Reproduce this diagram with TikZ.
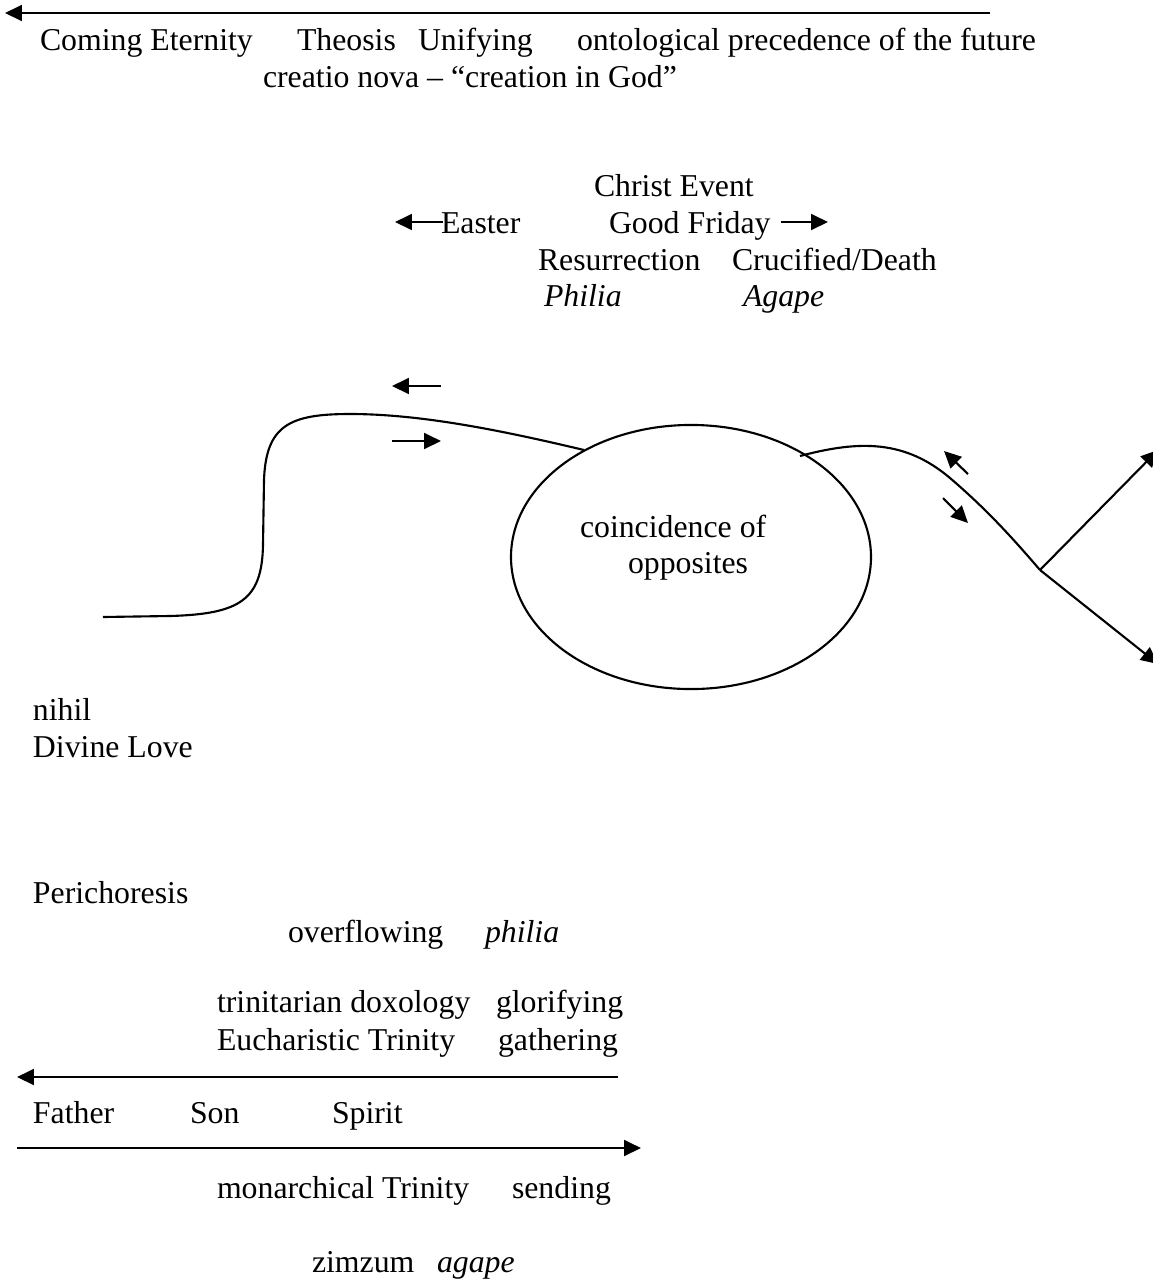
\documentclass[tikz,border=0pt]{standalone}
\usepackage{fontspec}
\setmainfont{Liberation Serif}
\usetikzlibrary{arrows.meta,shapes.geometric}
\begin{document}
\begin{tikzpicture}[x=0.3775pt,y=-0.3775pt,
  txt/.style={anchor=base west,inner sep=0pt,outer sep=0pt,font=\fontsize{12pt}{14pt}\selectfont},
  itxt/.style={txt,font=\fontsize{12pt}{14pt}\selectfont\itshape},
  ln/.style={line width=0.8pt},
  arr/.style={ln,-{Triangle[length=6.4pt,width=6pt]}}]
\useasboundingbox (0,0) rectangle (1153,1280);
% top
\coordinate (topR) at (990,13);
\coordinate (topL) at (5,13);
\draw[arr] (topR) -- (topL);
\node[txt] (t1) at (40,50) {Coming Eternity};
\node[txt] (t2) at (297,50) {Theosis};
\node[txt] (t3) at (418,50) {Unifying};
\node[txt] (t4) at (577,50) {ontological precedence of the future};
\node[txt] (t5) at (263,87) {creatio nova – “creation in God”};
% Christ event
\node[txt] (ce) at (594,196) {Christ Event};
\node[txt] (easter) at (441,233) {Easter};
\node[txt] (gf) at (609,233) {Good Friday};
\coordinate (eA) at (443,222);
\coordinate (eB) at (395,222);
\draw[arr] (eA) -- (eB);
\coordinate (gA) at (781,222);
\coordinate (gB) at (828,222);
\draw[arr] (gA) -- (gB);
\node[txt] (res) at (538,270) {Resurrection};
\node[txt] (cru) at (732,270) {Crucified/Death};
\node[itxt] (phi) at (544,306) {Philia};
\node[itxt] (aga) at (743,306) {Agape};
% small arrows left
\coordinate (s1a) at (441,386); \coordinate (s1b) at (392,386);
\draw[arr] (s1a) -- (s1b);
\coordinate (s2a) at (392,441); \coordinate (s2b) at (441,441);
\draw[arr] (s2a) -- (s2b);
% ellipse
\node[draw,ln,ellipse,minimum width=135.9pt,minimum height=99.7pt,inner sep=0pt] (ell) at (691,557) {};
\node[txt] (co1) at (580,537) {coincidence of};
\node[txt] (co2) at (628,573) {opposites};
% left curve
\coordinate (lc0) at (103,617);
\coordinate (lcE) at (584,450);
\draw[ln] (lc0) -- (170,616) .. controls (240,614) and (262,600) .. (263,545)
  -- (264,480) .. controls (266,425) and (290,414) .. (350,414)
  .. controls (420,414) and (500,430) .. (lcE);
% right curve
\coordinate (rc0) at (800,456);
\coordinate (fork) at (1040,570);
\draw[ln] (rc0) .. controls (860,440) and (905,440) .. (950,478)
  .. controls (985,508) and (1010,535) .. (fork);
\coordinate (up) at (1158,450);
\coordinate (dn) at (1158,664);
\draw[arr] (fork) -- (up);
\draw[arr] (fork) -- (dn);
\coordinate (s3a) at (968,474); \coordinate (s3b) at (944,451);
\draw[arr] (s3a) -- (s3b);
\coordinate (s4a) at (943,498); \coordinate (s4b) at (968,523);
\draw[arr] (s4a) -- (s4b);
% lower left texts
\node[txt] (nih) at (33,720) {nihil};
\node[txt] (dl) at (33,757) {Divine Love};
\node[txt] (per) at (33,903) {Perichoresis};
\node[txt] (ov) at (288,942) {overflowing};
\node[itxt] (phl) at (485,942) {philia};
\node[txt] (td) at (217,1012) {trinitarian doxology};
\node[txt] (gl) at (496,1012) {glorifying};
\node[txt] (et) at (217,1050) {Eucharistic Trinity};
\node[txt] (ga) at (498,1050) {gathering};
\coordinate (b1a) at (618,1077); \coordinate (b1b) at (17,1077);
\draw[arr] (b1a) -- (b1b);
\node[txt] (fa) at (33,1123) {Father};
\node[txt] (so) at (190,1123) {Son};
\node[txt] (sp) at (332,1123) {Spirit};
\coordinate (b2a) at (17,1148); \coordinate (b2b) at (641,1148);
\draw[arr] (b2a) -- (b2b);
\node[txt] (mt) at (217,1198) {monarchical Trinity};
\node[txt] (se) at (512,1198) {sending};
\node[txt] (zz) at (312,1272) {zimzum};
\node[itxt] (ag) at (437,1272) {agape};
\end{tikzpicture}
\end{document}
